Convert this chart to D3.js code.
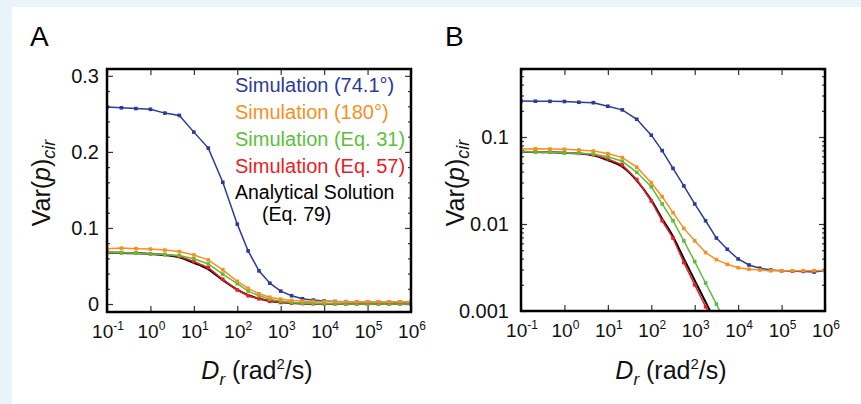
<!doctype html>
<html lang="en">
<head>
    <meta charset="UTF-8">
    <title>Var(p)cir vs Dr</title>
    <script src="https://d3js.org/d3.v7.min.js"></script>
    <style>
      body { margin: 0; background: #e8f3fa; }
      svg { display: block; font-family: "Liberation Sans", Arial, Helvetica, sans-serif; }
    </style>
</head>
<body>
    <div id="chart"></div>

    <script>

      // Rotational diffusion coefficient (rad^2/s)
      const dr = [0.1, 0.215, 0.464, 1, 2.15, 4.64, 10, 21.5, 46.4, 100,
                  178, 316, 562, 1000, 1780, 3160, 5620, 1e4, 1.78e4, 3.16e4,
                  5.62e4, 1e5, 1.78e5, 3.16e5, 5.62e5, 1e6];

      // Var(p)_cir per series
      const sim741 = [0.259, 0.258, 0.257, 0.256, 0.251, 0.248, 0.226, 0.205, 0.160, 0.105,
                      0.0698, 0.0436, 0.0274, 0.0170, 0.0109, 0.0069, 0.00512, 0.00396, 0.00338, 0.00310,
                      0.00296, 0.00290, 0.00287, 0.00285, 0.00280, 0.00292];
      const sim180 = [0.0728, 0.0735, 0.0728, 0.0722, 0.0709, 0.0690, 0.0645, 0.0580, 0.0450, 0.0298,
                      0.0206, 0.0135, 0.0089, 0.0064, 0.0047, 0.0039, 0.00344, 0.00315, 0.00302, 0.00296,
                      0.00290, 0.00290, 0.00290, 0.00290, 0.00291, 0.00295];
      const simEq31 = [0.0678, 0.0673, 0.0668, 0.0658, 0.0650, 0.0638, 0.0594, 0.0526, 0.0393, 0.0268,
                       0.0170, 0.0109, 0.0064, 0.0037, 0.0021, 0.0012, 0.00067, 0.00038, 0.00021, 0.00012,
                       0.00007, 0.00004, 0.00002, 0.00001, 0.00001, 0.00001];
      const simEq57 = [0.0680, 0.0676, 0.0670, 0.0660, 0.0650, 0.0625, 0.0559, 0.0477, 0.0325, 0.0184,
                       0.0109, 0.0069, 0.0036, 0.0020, 0.00112, 0.00063, 0.00035, 0.00020, 0.00011, 0.00006,
                       0.00004, 0.00002, 0.00001, 0.00001, 0.00001, 0.00001];
      const analytic = [0.0675, 0.0672, 0.0667, 0.0658, 0.0645, 0.0615, 0.0540, 0.0455, 0.0315, 0.0188,
                        0.0115, 0.0072, 0.0040, 0.00225, 0.00127, 0.00071, 0.0004, 0.00023, 0.00013, 0.00007,
                        0.00004, 0.00002, 0.00001, 0.00001, 0.00001, 0.00001];

      const legendLabels = ['Simulation (74.1°)', 'Simulation (180°)', 'Simulation (Eq. 31)',
                            'Simulation (Eq. 57)'];
      const analyticLabel = ['Analytical Solution', '(Eq. 79)'];
      const xTickExps = [-1, 0, 1, 2, 3, 4, 5, 6];
      const linTicks = [0, 0.1, 0.2, 0.3];
      const logTicks = [0.001, 0.01, 0.1];

      const series = [
        { values: analytic, color: '#000000', markers: false },
        { values: simEq57, color: '#ec1c24', markers: true },
        { values: simEq31, color: '#5cbf3c', markers: true },
        { values: sim741, color: '#2b3a9c', markers: true },
        { values: sim180, color: '#f7901e', markers: true }
      ];
      const legendColors = ['#2b3a9c', '#f7901e', '#5cbf3c', '#ec1c24'];

      const W = 861, H = 404;

      const svg = d3.select('#chart')
          .append('svg')
          .attr('width', W)
          .attr('height', H);

      // white panel over the light blue page edge
      svg.append('rect')
          .attr('x', 12).attr('y', 7)
          .attr('width', W - 12).attr('height', H - 7)
          .attr('fill', '#ffffff');

      const panels = [
        { id: 'A', left: 107, right: 411, top: 69, bottom: 312, log: false, letterX: 30 },
        { id: 'B', left: 521, right: 825, top: 69, bottom: 311, log: true, letterX: 445 }
      ];

      panels.forEach(p => {
        const x = d3.scaleLog().domain([0.1, 1e6]).range([p.left, p.right]);
        const y = p.log
          ? d3.scaleLog().domain([0.001, 0.605]).range([p.bottom, p.top])
          : d3.scaleLinear().domain([-0.0105, 0.309]).range([p.bottom, p.top]);

        const g = svg.append('g');

        // clip to the frame
        g.append('clipPath')
            .attr('id', 'clip' + p.id)
          .append('rect')
            .attr('x', p.left).attr('y', p.top)
            .attr('width', p.right - p.left).attr('height', p.bottom - p.top);

        // y ticks (inside, both sides)
        let major, minor;
        if (p.log) {
          major = logTicks;
          minor = [];
          [0.001, 0.01, 0.1].forEach(d => {
            for (let k = 2; k <= 9; k++) if (d * k < 0.605) minor.push(d * k);
          });
        } else {
          major = linTicks;
          minor = d3.range(0, 0.31, 0.02).filter(v => Math.abs(v * 10 - Math.round(v * 10)) > 1e-6);
        }

        const yl = g.append('g').attr('transform', `translate(${p.left},0)`)
            .call(d3.axisLeft(y).tickValues(major).tickSizeInner(-6).tickSizeOuter(0).tickFormat(''));
        const yr = g.append('g').attr('transform', `translate(${p.right},0)`)
            .call(d3.axisRight(y).tickValues(major).tickSizeInner(-6).tickSizeOuter(0).tickFormat(''));
        const ylm = g.append('g').attr('transform', `translate(${p.left},0)`)
            .call(d3.axisLeft(y).tickValues(minor).tickSizeInner(-3).tickSizeOuter(0).tickFormat(''));
        const yrm = g.append('g').attr('transform', `translate(${p.right},0)`)
            .call(d3.axisRight(y).tickValues(minor).tickSizeInner(-3).tickSizeOuter(0).tickFormat(''));

        const xVals = xTickExps.map(e => Math.pow(10, e));
        const xb = g.append('g').attr('transform', `translate(0,${p.bottom})`)
            .call(d3.axisBottom(x).tickValues(xVals).tickSizeInner(-6).tickSizeOuter(0).tickFormat(''));
        const xt = g.append('g').attr('transform', `translate(0,${p.top})`)
            .call(d3.axisTop(x).tickValues(xVals).tickSizeInner(-6).tickSizeOuter(0).tickFormat(''));

        [yl, yr, ylm, yrm, xb, xt].forEach(a => {
          a.select('.domain').remove();
          a.selectAll('line').attr('stroke', '#333').attr('stroke-width', 1.2);
        });

        // y tick labels
        g.selectAll('.ylab')
            .data(major)
            .enter()
            .append('text')
            .attr('x', p.log ? p.left - 12 : p.left - 8)
            .attr('y', d => y(d) + 7)
            .attr('text-anchor', 'end')
            .attr('font-size', 20)
            .attr('fill', '#111')
            .text(d => p.log ? String(d) : (d === 0 ? '0' : d.toFixed(1)));

        // x tick labels 10^n
        const xl = g.selectAll('.xlab')
            .data(xTickExps)
            .enter()
            .append('text')
            .attr('x', d => x(Math.pow(10, d)) + 1)
            .attr('y', p.bottom + 26)
            .attr('text-anchor', 'middle')
            .attr('font-size', 19)
            .attr('fill', '#111');
        xl.append('tspan').text('10');
        xl.append('tspan').attr('dy', -8).attr('font-size', 12).text(d => String(d));

        // series
        const line = d3.line()
            .x((d, i) => x(dr[i]))
            .y(d => y(d));

        const plot = g.append('g').attr('clip-path', `url(#clip${p.id})`);
        series.forEach(s => {
          plot.append('path')
              .datum(s.values)
              .attr('fill', 'none')
              .attr('stroke', s.color)
              .attr('stroke-width', s.markers ? 1.5 : 2)
              .attr('d', s.markers ? line : line.curve(d3.curveMonotoneX));
          line.curve(d3.curveLinear);
          if (s.markers) {
            plot.selectAll(null)
                .data(s.values)
                .enter()
                .append('rect')
                .attr('x', (d, i) => x(dr[i]) - 1.8)
                .attr('y', d => y(d) - 1.8)
                .attr('width', 3.6)
                .attr('height', 3.6)
                .attr('fill', s.color);
          }
        });

        // frame
        g.append('rect')
            .attr('x', p.left).attr('y', p.top)
            .attr('width', p.right - p.left).attr('height', p.bottom - p.top)
            .attr('fill', 'none')
            .attr('stroke', '#000')
            .attr('stroke-width', 2.5);

        // panel letter
        svg.append('text')
            .attr('x', p.letterX)
            .attr('y', 46)
            .attr('font-size', 28)
            .attr('fill', '#000')
            .text(p.id);

        // y axis label
        const cy = 183;
        const ylab = svg.append('text')
            .attr('transform', `translate(${p.left - 57},${cy}) rotate(-90)`)
            .attr('text-anchor', 'middle')
            .attr('font-size', 25)
            .attr('fill', '#111');
        ylab.append('tspan').text('Var(');
        ylab.append('tspan').attr('font-style', 'italic').text('p');
        ylab.append('tspan').text(')');
        ylab.append('tspan').attr('font-style', 'italic').attr('font-size', 18).attr('dy', 5).text('cir');

        // x axis label
        const xlab = svg.append('text')
            .attr('x', (p.left + p.right) / 2 - 2)
            .attr('y', 379)
            .attr('text-anchor', 'middle')
            .attr('font-size', 25)
            .attr('fill', '#111');
        xlab.append('tspan').attr('font-style', 'italic').text('D');
        xlab.append('tspan').attr('font-style', 'italic').attr('font-size', 17).attr('dy', 6).text('r');
        xlab.append('tspan').attr('dy', -6).text(' (rad');
        xlab.append('tspan').attr('font-size', 15).attr('dy', -10).text('2');
        xlab.append('tspan').attr('dy', 10).text('/s)');

        // legend (panel A only)
        if (!p.log) {
          const ly = [92, 119, 146, 173];
          svg.selectAll('.leg')
              .data(legendLabels)
              .enter()
              .append('text')
              .attr('x', 235)
              .attr('y', (d, i) => ly[i])
              .attr('font-size', 20)
              .attr('fill', (d, i) => legendColors[i])
              .text(d => d);

          // analytical entry on two lines
          svg.selectAll('.an')
              .data(analyticLabel)
              .enter()
              .append('text')
              .attr('x', (d, i) => i ? 262 : 235)
              .attr('y', (d, i) => i ? 221 : 199)
              .attr('font-size', 19.5)
              .attr('fill', '#000')
              .text(d => d);
        }
      });

    </script>

</body>
</html>
